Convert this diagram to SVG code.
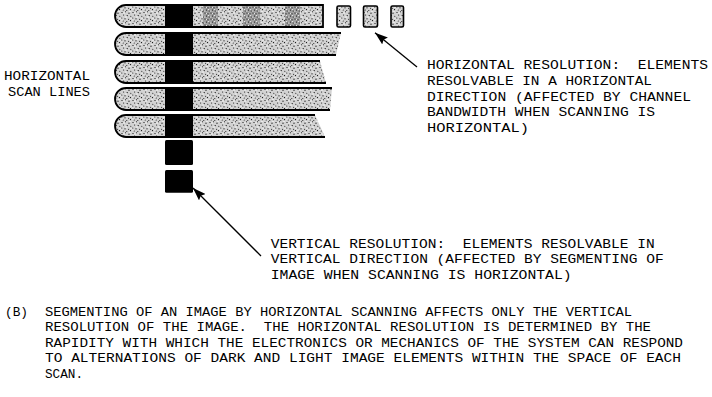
<svg xmlns="http://www.w3.org/2000/svg" width="712" height="397" viewBox="0 0 712 397">
<style>
text{font-family:"Liberation Mono","DejaVu Sans Mono",monospace;font-size:12.2px;fill:#000;white-space:pre}
.edge{fill:none;stroke:#000;stroke-width:1.8}
.st{fill:url(#st)}
.dk{fill:url(#dk)}
.blk{fill:#000}
.conn{stroke:#000;stroke-width:1.3;fill:none}
</style>
<defs>
<pattern id="st" width="11" height="11" patternUnits="userSpaceOnUse">
<rect width="11" height="11" fill="#d2d2d2"/>
<g fill="#000">
<circle cx="1" cy="1.5" r="0.6"/><circle cx="4.5" cy="0.8" r="0.5"/><circle cx="8" cy="2.2" r="0.6"/>
<circle cx="2.6" cy="4" r="0.5"/><circle cx="6.2" cy="4.6" r="0.6"/><circle cx="9.8" cy="5.3" r="0.5"/>
<circle cx="0.8" cy="7" r="0.5"/><circle cx="4" cy="7.8" r="0.6"/><circle cx="7.6" cy="8.3" r="0.5"/>
<circle cx="2.2" cy="10" r="0.5"/><circle cx="5.8" cy="10.4" r="0.5"/><circle cx="9.5" cy="9.6" r="0.6"/>
</g>
<g fill="#fff">
<circle cx="3" cy="2" r="0.7"/><circle cx="9" cy="0.5" r="0.6"/><circle cx="5" cy="6" r="0.7"/><circle cx="10" cy="7.5" r="0.6"/><circle cx="1" cy="9" r="0.6"/>
</g>
</pattern>
<pattern id="dk" width="6" height="6" patternUnits="userSpaceOnUse">
<rect width="6" height="6" fill="#a0a0a0"/>
<g fill="#000">
<circle cx="1" cy="1" r="0.6"/><circle cx="4" cy="1.8" r="0.6"/><circle cx="2.5" cy="4" r="0.6"/><circle cx="5.2" cy="5" r="0.5"/>
</g>
<g fill="#fff"><circle cx="2.5" cy="1.5" r="0.5"/><circle cx="4.5" cy="3.5" r="0.5"/><circle cx="0.8" cy="5" r="0.5"/></g>
</pattern>
<marker id="ah" markerUnits="userSpaceOnUse" markerWidth="13" markerHeight="9" refX="13" refY="4.5" orient="auto">
<path d="M0,0 L13,4.5 L0,9 L2,4.5 Z" fill="#000"/>
</marker>
</defs>

<g id="scanline1">
<path class="st" d="M126,5 H323 V27 H126 A11,11 0 0 1 126,5 Z"/>
<rect class="dk" x="203" y="6" width="15" height="20"/>
<rect class="dk" x="243" y="6" width="17" height="20"/>
<rect class="dk" x="285" y="6" width="15" height="20"/>
<rect class="blk" x="165" y="5" width="28" height="22"/>
<path class="edge" d="M126,5 H323 V27 H126 A11,11 0 0 1 126,5 Z"/>
</g>
<g id="element1"><rect class="st" x="337" y="6" width="13.5" height="21" rx="1.5" stroke="#000" stroke-width="1.6"/></g>
<g id="element2"><rect class="st" x="363.5" y="6" width="14" height="21" rx="1.5" stroke="#000" stroke-width="1.6"/></g>
<g id="element3"><rect class="st" x="391" y="6" width="12.5" height="21" rx="1.5" stroke="#000" stroke-width="1.6"/></g>

<g id="scanline2">
<path class="st" d="M126,33 H341 L336,55 H126 A11,11 0 0 1 126,33 Z"/>
<rect class="blk" x="165" y="33" width="28" height="22"/>
<path class="edge" d="M341,33 H126 A11,11 0 0 0 126,55 H336"/>
</g>
<g id="scanline3">
<path class="st" d="M126,61 H320 L326,83 H126 A11,11 0 0 1 126,61 Z"/>
<rect class="blk" x="165" y="61" width="28" height="22"/>
<path class="edge" d="M320,61 H126 A11,11 0 0 0 126,83 H326"/>
</g>
<g id="scanline4">
<path class="st" d="M126,88 H332 L330,110 H126 A11,11 0 0 1 126,88 Z"/>
<rect class="blk" x="165" y="88" width="28" height="22"/>
<path class="edge" d="M332,88 H126 A11,11 0 0 0 126,110 H330"/>
</g>
<g id="scanline5">
<path class="st" d="M126,115 H315 L325,137 H126 A11,11 0 0 1 126,115 Z"/>
<rect class="blk" x="165" y="115" width="28" height="22"/>
<path class="edge" d="M315,115 H126 A11,11 0 0 0 126,137 H325"/>
</g>

<g id="vsquare1"><rect class="blk" x="165" y="140" width="28" height="25" rx="1.5"/></g>
<g id="vsquare2"><rect class="blk" x="165" y="170" width="28" height="22.7" rx="1.5"/></g>

<g id="connectors">
<line class="conn" x1="417" y1="67" x2="375" y2="32.7" marker-end="url(#ah)"/>
<line class="conn" x1="261" y1="256" x2="193" y2="188" marker-end="url(#ah)"/>
</g>

<g id="label-scan-lines">
<text x="4" y="80" textLength="86" lengthAdjust="spacingAndGlyphs">HORIZONTAL</text>
<text x="8" y="95.5" textLength="82" lengthAdjust="spacingAndGlyphs">SCAN LINES</text>
</g>

<g id="label-horizontal-resolution">
<text x="427" y="69.3" textLength="281" lengthAdjust="spacingAndGlyphs">HORIZONTAL RESOLUTION:  ELEMENTS</text>
<text x="427" y="85" textLength="225" lengthAdjust="spacingAndGlyphs">RESOLVABLE IN A HORIZONTAL</text>
<text x="427" y="100.7" textLength="264" lengthAdjust="spacingAndGlyphs">DIRECTION (AFFECTED BY CHANNEL</text>
<text x="427" y="116.3" textLength="228" lengthAdjust="spacingAndGlyphs">BANDWIDTH WHEN SCANNING IS</text>
<text x="427" y="131.9" textLength="102" lengthAdjust="spacingAndGlyphs">HORIZONTAL)</text>
</g>

<g id="label-vertical-resolution">
<text x="270.7" y="247.6" textLength="384" lengthAdjust="spacingAndGlyphs">VERTICAL RESOLUTION:  ELEMENTS RESOLVABLE IN</text>
<text x="270.7" y="263.3" textLength="393" lengthAdjust="spacingAndGlyphs">VERTICAL DIRECTION (AFFECTED BY SEGMENTING OF</text>
<text x="270.7" y="279" textLength="301" lengthAdjust="spacingAndGlyphs">IMAGE WHEN SCANNING IS HORIZONTAL)</text>
</g>

<g id="caption">
<text x="5" y="315.7" textLength="23" lengthAdjust="spacingAndGlyphs">(B)</text>
<text x="45" y="315.7" textLength="587" lengthAdjust="spacingAndGlyphs">SEGMENTING OF AN IMAGE BY HORIZONTAL SCANNING AFFECTS ONLY THE VERTICAL</text>
<text x="45" y="331" textLength="606" lengthAdjust="spacingAndGlyphs">RESOLUTION OF THE IMAGE.  THE HORIZONTAL RESOLUTION IS DETERMINED BY THE</text>
<text x="45" y="346.7" textLength="638" lengthAdjust="spacingAndGlyphs">RAPIDITY WITH WHICH THE ELECTRONICS OR MECHANICS OF THE SYSTEM CAN RESPOND</text>
<text x="45" y="362" textLength="636" lengthAdjust="spacingAndGlyphs">TO ALTERNATIONS OF DARK AND LIGHT IMAGE ELEMENTS WITHIN THE SPACE OF EACH</text>
<text x="45" y="377.5" textLength="38" lengthAdjust="spacingAndGlyphs">SCAN.</text>
</g>
</svg>
